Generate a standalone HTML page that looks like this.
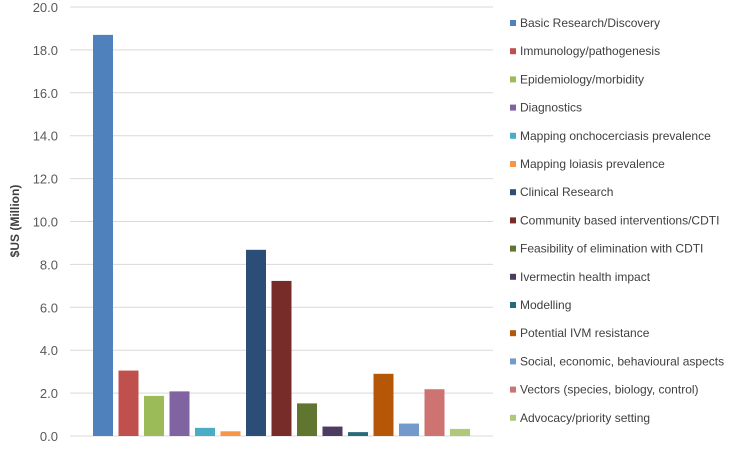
<!DOCTYPE html>
<html><head><meta charset="utf-8"><style>
body{margin:0;background:#fff;font-family:"Liberation Sans",sans-serif;}
svg text{font-family:"Liberation Sans",sans-serif;}
</style></head><body>
<svg id="chart" width="737" height="449" xmlns="http://www.w3.org/2000/svg">
<g id="grid"></g>
<g id="yticks"></g>
<text transform="translate(19,221) rotate(-90)" text-anchor="middle" font-size="12" font-weight="bold" fill="#404040">$US (Million)</text>
<g id="bars"></g>
<g id="legend"></g>
</svg>
<script>
const categories=["Basic Research/Discovery","Immunology/pathogenesis","Epidemiology/morbidity","Diagnostics","Mapping onchocerciasis prevalence","Mapping loiasis prevalence","Clinical Research","Community based interventions/CDTI","Feasibility of elimination with CDTI","Ivermectin health impact","Modelling","Potential IVM resistance","Social, economic, behavioural aspects","Vectors (species, biology, control)","Advocacy/priority setting"];
const values=[18.7,3.05,1.87,2.08,0.38,0.22,8.68,7.23,1.52,0.44,0.18,2.9,0.58,2.18,0.33];
const tickValues=[0,2,4,6,8,10,12,14,16,18,20];
const colors=["#4F81BD","#C0504D","#9BBB59","#8064A2","#4BACC6","#F79646","#2C4D75","#772C2A","#5F7530","#4D3B62","#276A7C","#B65708","#729ACA","#CD7371","#AFC97A"];
const NS="http://www.w3.org/2000/svg";
const y0=436,y1=7,yMax=20;
function yScale(v){return y0-(v/yMax)*(y0-y1);}
const barStart=93,pitch=25.5,barW=20;
function xScale(i){return barStart+i*pitch;}
const grid=document.getElementById('grid'),yt=document.getElementById('yticks');
tickValues.forEach(t=>{
 const l=document.createElementNS(NS,'line');
 
 
 l.setAttribute('x1',70);l.setAttribute('x2',493);
 l.setAttribute('y1',yScale(t));l.setAttribute('y2',yScale(t));
 l.setAttribute('stroke','#d9d9d9');l.setAttribute('stroke-width','1');
 grid.appendChild(l);
 const tx=document.createElementNS(NS,'text');
 
 
 tx.setAttribute('x',58);tx.setAttribute('y',yScale(t)+5);
 tx.setAttribute('text-anchor','end');tx.setAttribute('font-size','13');tx.setAttribute('fill','#595959');
 tx.textContent=t.toFixed(1);
 yt.appendChild(tx);
});
const bars=document.getElementById('bars'),lg=document.getElementById('legend');
values.forEach((v,i)=>{
 const r=document.createElementNS(NS,'rect');
 
 
 r.setAttribute('x',xScale(i));r.setAttribute('width',barW);
 r.setAttribute('y',yScale(v));r.setAttribute('height',y0-yScale(v));
 r.setAttribute('fill',colors[i]);
 bars.appendChild(r);
});
categories.forEach((c,i)=>{
 const y=23+i*28.2;
 const m=document.createElementNS(NS,'rect');
 
 
 m.setAttribute('x',510);m.setAttribute('y',y-3);m.setAttribute('width',6);m.setAttribute('height',6);
 m.setAttribute('fill',colors[i]);
 lg.appendChild(m);
 const t=document.createElementNS(NS,'text');
 
 
 t.setAttribute('x',520);t.setAttribute('y',y+4);
 t.setAttribute('font-size','12');t.setAttribute('fill','#404040');
 t.textContent=c;
 lg.appendChild(t);
});
</script>
</body></html>
